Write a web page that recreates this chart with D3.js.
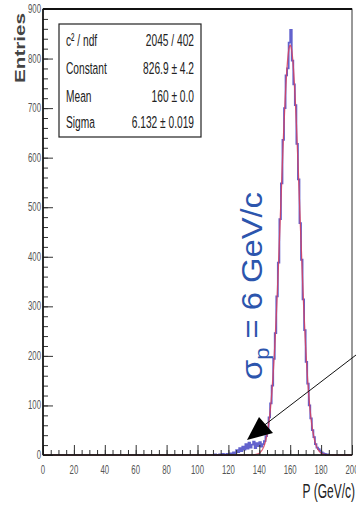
<!DOCTYPE html>
<html><head><meta charset="utf-8">
<script src="https://cdn.jsdelivr.net/npm/d3@7"></script>
<style>body{margin:0;background:#fff}svg{display:block}</style>
</head><body>
<svg id="c" width="356" height="506"></svg>
<script>
// Momentum histogram, 1 GeV/c bins, first listed bin starts at binLow
const binLow = 110;
const counts = [
  0, 1, 0, 0, 1, 0, 2, 1, 0, 2,            // 110-119
  1, 3, 2, 5, 3, 10, 6, 14, 8, 17,         // 120-129
  11, 22, 13, 25, 15, 21, 27, 14, 24, 18,  // 130-139
  26, 17, 22, 28, 38, 52, 76, 104, 140, 194, // 140-149
  246, 320, 388, 476, 548, 636, 700, 766, 780, 832, // 150-159
  858, 796, 748, 706, 628, 556, 468, 394, 314, 252, // 160-169
  188, 144, 100, 74, 50, 36, 22, 15, 12, 9,  // 170-179
  5, 3, 2, 1, 1                              // 180-184
];

// Gaussian fit parameters
const fitConstant = 826.9, fitMean = 160, fitSigma = 6.132;

const statLabels = ["c\u00B2 / ndf", "Constant", "Mean", "Sigma"];
const statValues = ["2045 / 402", "826.9 \u00B1 4.2", "160 \u00B1 0.0", "6.132 \u00B1 0.019"];

const xTickValues = d3.range(0, 201, 20);
const yTickValues = d3.range(0, 901, 100);

const svg = d3.select("#c");
const L = 43, R = 352, T = 9, B = 455;
const x = d3.scaleLinear().domain([0, 200]).range([L, R]);
const y = d3.scaleLinear().domain([0, 900]).range([B, T]);

const narrow = 0.6;
function narrowText(g, px, py, str, size, anchor, fill) {
  return g.append("text")
    .attr("transform", `translate(${px},${py}) scale(${narrow},1)`)
    .attr("text-anchor", anchor)
    .attr("font-family", "Liberation Sans, Arial, sans-serif")
    .attr("font-size", size)
    .attr("fill", fill || "#222")
    .text(str);
}

// histogram outline
const edges = counts.map((c, i) => [binLow + i, c]);
edges.push([binLow + counts.length, 0]);
const pts = [[binLow, 0], ...edges];
const line = d3.line().curve(d3.curveStepAfter)
  .x(d => x(d[0])).y(d => y(d[1]));
svg.append("path").datum(pts).attr("d", line)
  .attr("fill", "none").attr("stroke", "#4646c4").attr("stroke-width", 1.8)
  .attr("stroke-opacity", 0.85);

// fit curve, drawn over the histogram
const fitPts = d3.range(0, 200.01, 0.25).map(v =>
  [v, fitConstant * Math.exp(-0.5 * Math.pow((v - fitMean) / fitSigma, 2))]);
svg.append("path").datum(fitPts)
  .attr("d", d3.line().x(d => x(d[0])).y(d => Math.min(y(d[1]), B + 1)))
  .attr("fill", "none").attr("stroke", "#d8405e").attr("stroke-width", 1.3)
  .attr("stroke-opacity", 0.85);

// axes: ticks point into the frame
function ticks(axis, tr) {
  const g = svg.append("g").attr("transform", tr).call(axis);
  g.select(".domain").remove();
  g.selectAll("line").attr("stroke", "#333").attr("stroke-width", 1);
  g.selectAll("text").remove();
  return g;
}
ticks(d3.axisLeft(y).tickValues(yTickValues).tickSize(-10), `translate(${L},0)`);
ticks(d3.axisLeft(y).tickValues(d3.range(0, 901, 20)).tickSize(-5), `translate(${L},0)`);
ticks(d3.axisBottom(x).tickValues(xTickValues).tickSize(-10), `translate(0,${B})`);
ticks(d3.axisBottom(x).tickValues(d3.range(0, 201, 5)).tickSize(-5), `translate(0,${B})`);

// frame
svg.append("rect").attr("x", L).attr("y", T).attr("width", R - L).attr("height", B - T)
  .attr("fill", "none").attr("stroke", "#333").attr("stroke-width", 1);
svg.append("line").attr("x1", L).attr("x2", R).attr("y1", T).attr("y2", T)
  .attr("stroke", "#111").attr("stroke-width", 2);
svg.append("line").attr("x1", L).attr("x2", L).attr("y1", T).attr("y2", B)
  .attr("stroke", "#111").attr("stroke-width", 1.6);
svg.append("line").attr("x1", L).attr("x2", R).attr("y1", B).attr("y2", B)
  .attr("stroke", "#111").attr("stroke-width", 1.4);

// tick labels
const lab = svg.append("g");
yTickValues.forEach(v => narrowText(lab, L - 2, y(v) + 4, String(v), 13, "end", "#555"));
xTickValues.forEach(v => narrowText(lab, x(v), 474, String(v), 13, "middle", "#555"));

// axis titles
narrowText(svg, 355, 498, "P (GeV/c)", 20, "end", "#222");
svg.append("text")
  .attr("transform", "translate(25,13) rotate(-90)")
  .attr("text-anchor", "end")
  .attr("font-family", "Liberation Sans, Arial, sans-serif")
  .attr("font-size", 15).attr("font-weight", "bold").attr("fill", "#444")
  .attr("textLength", 70).attr("lengthAdjust", "spacingAndGlyphs")
  .text("Entries");

// statistics box
svg.append("rect").attr("x", 59).attr("y", 24).attr("width", 142).attr("height", 113)
  .attr("fill", "#fff").attr("stroke", "#222").attr("stroke-width", 1.2);
const rowY = [46, 74, 102, 128];
statLabels.forEach((s, i) => narrowText(svg, 66, rowY[i], s, 17, "start"));
statValues.forEach((s, i) => narrowText(svg, 194, rowY[i], s, 17, "end"));

// resolution annotation
const ann = svg.append("text")
  .attr("transform", "translate(262,380) rotate(-90)")
  .attr("font-family", "Liberation Sans, Arial, sans-serif")
  .attr("font-size", 30).attr("fill", "#2c55ad")
  .attr("textLength", 188).attr("lengthAdjust", "spacingAndGlyphs");
ann.append("tspan").text("\u03C3");
ann.append("tspan").attr("font-size", 20).attr("dy", 7).text("p");
ann.append("tspan").attr("dy", -7).text(" = 6 GeV/c");

// arrow pointing at the low-momentum tail
svg.append("line").attr("x1", 356).attr("y1", 355).attr("x2", 262).attr("y2", 427)
  .attr("stroke", "#111").attr("stroke-width", 1);
svg.append("path").attr("d", "M247,440 L259,417 L273,433 Z").attr("fill", "#000");
</script>
</body></html>
